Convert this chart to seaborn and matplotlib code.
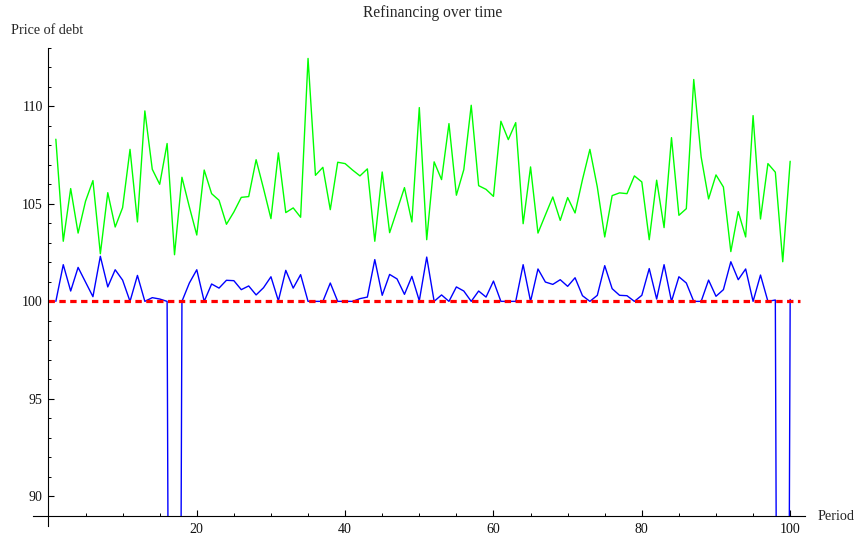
import numpy as np
import pandas as pd
import matplotlib
matplotlib.use("Agg")
import matplotlib.pyplot as plt
from matplotlib.ticker import MultipleLocator, FixedLocator
import seaborn as sns

# Price paths per period
periods = list(range(1, 101))
green_price = [108.31, 103.08, 105.78, 103.5, 105.13, 106.19, 102.44, 105.57, 103.81, 104.8,
               107.79, 104.07, 109.76, 106.77, 106.0, 108.09, 102.39, 106.36, 104.84, 103.4,
               106.73, 105.52, 105.18, 103.95, 104.58, 105.33, 105.37, 107.26, 105.78, 104.24,
               107.61, 104.55, 104.79, 104.31, 112.45, 106.46, 106.87, 104.7, 107.13, 107.06,
               106.73, 106.43, 106.79, 103.08, 106.63, 103.52, 104.67, 105.83, 104.07, 109.93,
               103.16, 107.15, 106.24, 109.11, 105.44, 106.75, 110.05, 105.93, 105.74, 105.38,
               109.23, 108.29, 109.16, 103.98, 106.89, 103.5, 104.43, 105.35, 104.15, 105.32,
               104.53, 106.24, 107.79, 105.86, 103.3, 105.42, 105.56, 105.52, 106.43, 106.12,
               103.16, 106.21, 103.78, 108.39, 104.41, 104.75, 111.37, 107.4, 105.25, 106.48,
               105.86, 102.55, 104.6, 103.3, 109.52, 104.22, 107.06, 106.62, 102.03, 107.18]
blue_price = [100, 101.88, 100.53, 101.74, 100.99, 100.24, 102.31, 100.74, 101.62, 101.09,
              100, 101.33, 100, 100.19, 100.12, 100, 0, 100, 100.94, 101.62,
              100, 100.89, 100.68, 101.08, 101.06, 100.6, 100.79, 100.33, 100.7, 101.26,
              100.03, 101.59, 100.68, 101.37, 100, 100, 100, 100.94, 100, 100,
              100, 100.14, 100.22, 102.14, 100.31, 101.38, 101.15, 100.36, 101.28, 100.03,
              102.27, 100, 100.33, 100, 100.74, 100.53, 100, 100.53, 100.22, 101.04,
              100, 100, 100, 101.88, 100, 101.66, 100.99, 100.87, 101.11, 100.77,
              101.21, 100.29, 100, 100.31, 101.83, 100.65, 100.31, 100.29, 100, 100.31,
              101.68, 100.12, 101.88, 100, 101.26, 100.94, 100, 100, 101.09, 100.26,
              100.6, 102.03, 101.11, 101.66, 100, 101.35, 100, 100.07, 0, 100.1]
par_value = 100
par_span = [0, 101.3]

y_major = [90, 95, 100, 105, 110]
x_major = [20, 40, 60, 80, 100]

df = pd.DataFrame({"period": periods, "green": green_price, "blue": blue_price})

sns.set_style("white")
plt.rcParams["font.family"] = ["Liberation Serif", "DejaVu Serif"]

fig = plt.figure(figsize=(8.57, 5.37), dpi=100)
# plotting area: x from -2.08 to 102, y from 89 to 113
ax = fig.add_axes([33 / 857, 21 / 537, 772 / 857, 468.3 / 537])

sns.lineplot(data=df, x="period", y="green", color="#00ff00", lw=1.0, ax=ax)
sns.lineplot(data=df, x="period", y="blue", color="#0000ff", lw=1.0, ax=ax)
sns.lineplot(x=par_span, y=[par_value, par_value], color="#ff0000", lw=2.3,
             dashes=False, ax=ax).lines[-1].set_dashes([2.0, 1.4])

ax.set_xlim(-2.08, 102.0)
ax.set_ylim(89, 113)

for s in ["top", "right"]:
    ax.spines[s].set_visible(False)
ax.spines["left"].set_position(("data", 0))
ax.spines["left"].set_bounds(88.5, 113)
ax.spines["bottom"].set_position(("data", 89))
for s in ["left", "bottom"]:
    ax.spines[s].set_color("black")
    ax.spines[s].set_linewidth(0.8)
    ax.spines[s].set_clip_on(False)

ax.xaxis.set_major_locator(FixedLocator(x_major))
ax.xaxis.set_minor_locator(MultipleLocator(5))
ax.yaxis.set_major_locator(FixedLocator(y_major))
ax.yaxis.set_minor_locator(MultipleLocator(1))
ax.tick_params(axis="both", which="both", bottom=True, left=True, top=False, right=False)
ax.tick_params(axis="both", which="major", direction="in", length=4.3, width=0.8,
               color="black", labelsize=10, labelcolor="#111111")
ax.tick_params(axis="both", which="minor", direction="in", length=2.4, width=0.7,
               color="black")
ax.tick_params(axis="y", which="major", pad=4)
ax.tick_params(axis="x", which="major", pad=5)
ax.set_xlabel("")
ax.set_ylabel("")
ax.grid(False)

fig.text(432.5 / 857, 1 - 13 / 537, "Refinancing over time", ha="center", va="center",
         fontsize=11.2)
fig.text(11 / 857, 1 - 30 / 537, "Price of debt", ha="left", va="center", fontsize=10.2)
fig.text(818 / 857, 1 - 517 / 537, "Period", ha="left", va="center", fontsize=10.2)

fig.savefig("out.png", dpi=100)
